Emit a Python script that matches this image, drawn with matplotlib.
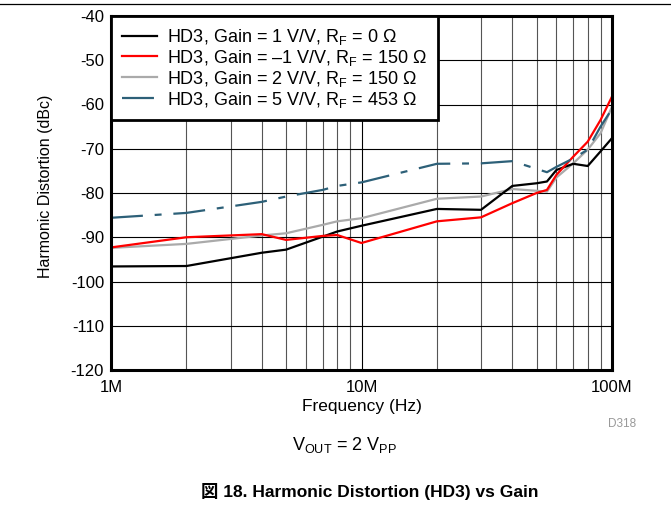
import matplotlib
matplotlib.use("Agg")
import matplotlib.pyplot as plt
from matplotlib.ticker import FixedLocator, NullFormatter, FixedFormatter

plt.rcParams['font.family'] = ['Liberation Sans', 'Noto Sans CJK JP', 'DejaVu Sans']
plt.rcParams['mathtext.fontset'] = 'custom'
plt.rcParams['mathtext.rm'] = 'Liberation Sans'
plt.rcParams['mathtext.it'] = 'Liberation Sans'
plt.rcParams['lines.scale_dashes'] = False

# Frequency in MHz, HD3 in dBc
freq_g1 = [1, 2, 4, 5, 8, 10, 20, 30, 40, 50, 55, 60, 70, 80, 90, 100]
hd3_g1 = [-96.6, -96.5, -93.5, -92.8, -88.7, -87.4, -83.6, -83.8, -78.4, -77.8,
          -77.4, -74.8, -73.4, -73.9, -70.6, -67.6]

freq_gm1 = [1, 2, 4, 5, 7, 8, 10, 20, 30, 40, 50, 55, 60, 70, 80, 90, 100]
hd3_gm1 = [-92.3, -90.0, -89.3, -90.6, -89.7, -89.5, -91.3, -86.4, -85.5, -82.3,
           -80.0, -79.3, -75.9, -71.8, -68.4, -63.5, -58.2]

freq_g2 = [1, 2, 4, 5, 7, 8, 10, 20, 30, 40, 50, 55, 60, 70, 80, 90, 100]
hd3_g2 = [-92.4, -91.5, -89.6, -89.1, -87.2, -86.4, -85.7, -81.3, -80.8, -79.1,
          -79.5, -79.7, -76.5, -73.3, -70.2, -66.5, -60.5]

freq_g5 = [1, 2, 4, 5, 7, 8, 10, 20, 30, 40, 55, 60, 70, 80, 90, 100]
hd3_g5 = [-85.6, -84.5, -82.0, -80.8, -79.3, -78.4, -77.6, -73.4, -73.3, -72.8,
          -75.3, -74.1, -72.2, -70.2, -65.0, -61.0]

labels = [
    r'HD3, Gain = 1 V/V, R$_{\mathrm{F}}$ = 0 $\Omega$',
    r'HD3, Gain = –1 V/V, R$_{\mathrm{F}}$ = 150 $\Omega$',
    r'HD3, Gain = 2 V/V, R$_{\mathrm{F}}$ = 150 $\Omega$',
    r'HD3, Gain = 5 V/V, R$_{\mathrm{F}}$ = 453 $\Omega$',
]
y_ticks = [-40, -50, -60, -70, -80, -90, -100, -110, -120]
x_major = [1, 10, 100]
x_major_labels = ['1M', '10M', '100M']

fig = plt.figure(figsize=(6.71, 5.08), dpi=100)
ax = fig.add_axes([111 / 671, 1 - 370 / 508, 501 / 671, 354 / 508])

lw = 1.6
ax.plot(freq_g1, hd3_g1, color='black', lw=lw, label=labels[0], zorder=4)
ax.plot(freq_gm1, hd3_gm1, color='#FF0000', lw=lw, label=labels[1], zorder=5)
ax.plot(freq_g2, hd3_g2, color='#AAAAAA', lw=lw, label=labels[2], zorder=3)
ax.plot(freq_g5, hd3_g5, color='#2D6078', lw=lw, label=labels[3], zorder=6,
        dashes=(23, 8.5, 5, 8.5))

ax.set_xscale('log')
ax.set_xlim(1, 100)
ax.set_ylim(-120, -40)
ax.xaxis.set_major_locator(FixedLocator(x_major))
ax.xaxis.set_major_formatter(FixedFormatter(x_major_labels))
ax.xaxis.set_minor_locator(FixedLocator([m * d for d in (1, 10) for m in range(2, 10)]))
ax.xaxis.set_minor_formatter(NullFormatter())
ax.yaxis.set_major_locator(FixedLocator(y_ticks))
ax.set_yticklabels([str(v) for v in y_ticks])

ax.grid(True, which='major', color='black', lw=0.8, zorder=1)
ax.grid(True, which='minor', axis='x', color='#555555', lw=0.8, zorder=1)
ax.set_axisbelow(True)
ax.tick_params(which='both', length=0, labelsize=12, pad=5)
ax.tick_params(axis='x', pad=7)
for s in ax.spines.values():
    s.set_linewidth(2.2)
    s.set_zorder(7)

ax.set_xlabel('Frequency (Hz)', fontsize=12.5, labelpad=3)
ax.set_ylabel('Harmonic Distortion (dBc)', fontsize=11.5)
ax.yaxis.set_label_coords(-0.115, 0.52)

leg = ax.legend(loc='upper left', bbox_to_anchor=(0, 1), borderaxespad=0,
                fontsize=13, frameon=True, fancybox=False, framealpha=1,
                edgecolor='black', handlelength=1.95, handletextpad=0.55,
                labelspacing=0.05, borderpad=0.6)
leg.get_frame().set_linewidth(2.0)
leg.set_zorder(8)

fig.text(622 / 671, 1 - 424 / 508, 'D318', color='#999999', fontsize=8.5,
         ha='center', va='center')
fig.text(345 / 671, 1 - 445 / 508, r'V$_{\mathrm{OUT}}$ = 2 V$_{\mathrm{PP}}$',
         fontsize=13, ha='center', va='center')
fig.text(370 / 671, 1 - 492 / 508, '図 18. Harmonic Distortion (HD3) vs Gain',
         fontsize=12.5, fontweight='bold', ha='center', va='center')

fig.add_artist(plt.Line2D([0, 1], [1 - 4 / 508, 1 - 4 / 508], color='black',
                          lw=0.9, transform=fig.transFigure))

fig.savefig('out.png', dpi=100)
